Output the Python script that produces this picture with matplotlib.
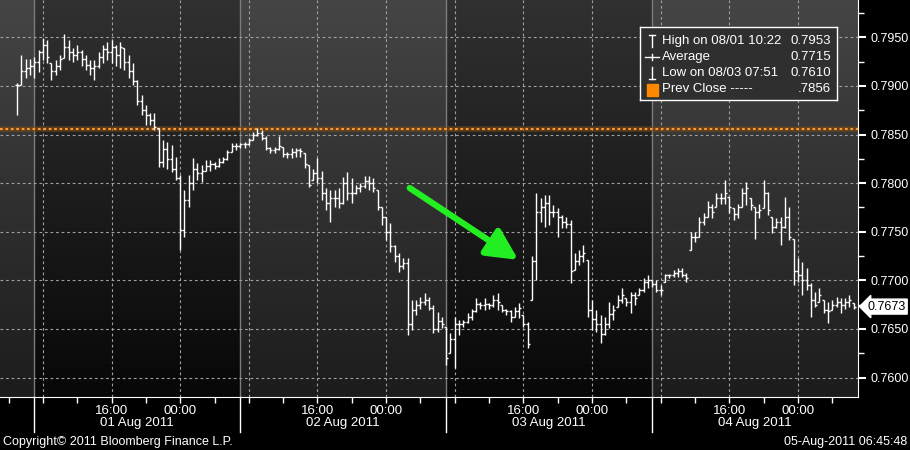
import matplotlib
matplotlib.use('Agg')
import matplotlib.pyplot as plt
import matplotlib.dates as mdates
import matplotlib.transforms as mtransforms
from matplotlib.patches import Rectangle
from matplotlib.ticker import FormatStrFormatter, MultipleLocator
import numpy as np
import pandas as pd

plt.rcParams['font.family'] = ['Liberation Sans', 'DejaVu Sans']

# 30 minute bars starting 01 Aug 05:00, prices x 10000
bar_start = '2011-08-01 05:00'
high = [
    7903, 7932, 7928, 7928, 7930, 7937, 7949, 7947, 7924, 7927,
    7932, 7953, 7947, 7939, 7942, 7937, 7932, 7927, 7927, 7935,
    7942, 7945, 7947, 7942, 7945, 7939, 7932, 7924, 7906, 7891,
    7880, 7872, 7872, 7857, 7844, 7842, 7839, 7827, 7808, 7793,
    7808, 7826, 7821, 7819, 7824, 7824, 7822, 7826, 7827, 7834,
    7841, 7841, 7841, 7842, 7846, 7853, 7857, 7855, 7849, 7837,
    7837, 7849, 7837, 7832, 7836, 7836, 7836, 7831, 7819, 7815,
    7826, 7813, 7795, 7793, 7793, 7795, 7806, 7811, 7805, 7798,
    7800, 7807, 7807, 7805, 7793, 7775, 7765, 7759, 7736, 7728,
    7723, 7723, 7680, 7680, 7683, 7687, 7683, 7675, 7667, 7662,
    7652, 7646, 7662, 7659, 7659, 7666, 7671, 7682, 7678, 7682,
    7677, 7685, 7687, 7675, 7671, 7670, 7673, 7677, 7664, 7657,
    7725, 7790, 7785, 7788, 7788, 7777, 7774, 7767, 7765, 7762,
    7728, 7731, 7736, 7721, 7680, 7670, 7664, 7662, 7678, 7675,
    7685, 7692, 7682, 7688, 7688, 7692, 7702, 7705, 7700, 7700,
    7695, 7707, 7707, 7711, 7713, 7713, 7708, 7750, 7750, 7765,
    7769, 7782, 7779, 7790, 7790, 7803, 7786, 7774, 7779, 7795,
    7801, 7785, 7775, 7779, 7803, 7791, 7765, 7764, 7765, 7786,
    7775, 7743, 7723, 7719, 7713, 7697, 7688, 7692, 7680, 7678,
    7680, 7683, 7682, 7682, 7685, 7677]
low = [
    7870, 7901, 7908, 7911, 7908, 7914, 7927, 7924, 7906, 7911,
    7916, 7929, 7927, 7925, 7927, 7921, 7916, 7911, 7906, 7918,
    7924, 7927, 7924, 7921, 7918, 7916, 7908, 7901, 7880, 7870,
    7860, 7860, 7855, 7817, 7817, 7815, 7811, 7803, 7731, 7745,
    7775, 7793, 7803, 7801, 7812, 7813, 7815, 7817, 7821, 7824,
    7832, 7834, 7836, 7836, 7839, 7844, 7848, 7844, 7834, 7831,
    7831, 7834, 7827, 7826, 7826, 7827, 7827, 7816, 7796, 7803,
    7800, 7783, 7772, 7760, 7775, 7774, 7779, 7783, 7780, 7789,
    7791, 7795, 7793, 7791, 7772, 7757, 7741, 7729, 7719, 7709,
    7712, 7644, 7649, 7664, 7671, 7675, 7670, 7646, 7647, 7651,
    7613, 7625, 7610, 7644, 7652, 7656, 7659, 7667, 7671, 7670,
    7671, 7673, 7670, 7667, 7664, 7657, 7662, 7661, 7652, 7630,
    7680, 7700, 7760, 7755, 7757, 7765, 7745, 7754, 7754, 7697,
    7711, 7716, 7719, 7662, 7649, 7647, 7636, 7644, 7651, 7659,
    7673, 7677, 7674, 7666, 7675, 7685, 7688, 7692, 7693, 7688,
    7685, 7698, 7702, 7703, 7703, 7703, 7698, 7731, 7739, 7745,
    7757, 7765, 7764, 7775, 7779, 7779, 7769, 7762, 7764, 7775,
    7777, 7772, 7743, 7764, 7774, 7767, 7749, 7754, 7736, 7754,
    7741, 7695, 7698, 7685, 7690, 7662, 7673, 7678, 7666, 7656,
    7670, 7673, 7666, 7671, 7673, 7671]
close = [
    7901, 7915, 7918, 7920, 7925, 7935, 7942, 7930, 7915, 7920,
    7928, 7940, 7935, 7932, 7935, 7928, 7922, 7918, 7920, 7930,
    7938, 7935, 7940, 7932, 7940, 7925, 7915, 7905, 7885, 7875,
    7870, 7865, 7858, 7822, 7835, 7825, 7815, 7805, 7752, 7783,
    7800, 7815, 7810, 7812, 7818, 7820, 7818, 7822, 7825, 7832,
    7838, 7838, 7840, 7840, 7844, 7850, 7852, 7846, 7836, 7834,
    7835, 7838, 7830, 7830, 7832, 7834, 7833, 7820, 7798, 7810,
    7805, 7790, 7780, 7785, 7785, 7780, 7800, 7790, 7790, 7795,
    7797, 7802, 7800, 7795, 7775, 7765, 7750, 7735, 7725, 7715,
    7718, 7655, 7670, 7675, 7678, 7680, 7672, 7650, 7658, 7655,
    7620, 7640, 7655, 7655, 7657, 7662, 7668, 7676, 7675, 7676,
    7675, 7680, 7678, 7670, 7668, 7662, 7668, 7672, 7655, 7635,
    7720, 7770, 7775, 7780, 7770, 7770, 7765, 7760, 7758, 7710,
    7720, 7725, 7728, 7670, 7660, 7655, 7645, 7655, 7665, 7670,
    7680, 7685, 7678, 7685, 7682, 7690, 7698, 7700, 7696, 7690,
    7690, 7705, 7705, 7708, 7710, 7706, 7702, 7745, 7745, 7760,
    7765, 7775, 7770, 7785, 7785, 7790, 7775, 7768, 7775, 7790,
    7795, 7778, 7770, 7772, 7790, 7772, 7755, 7760, 7755, 7765,
    7745, 7710, 7705, 7700, 7695, 7680, 7675, 7685, 7670, 7668,
    7675, 7678, 7675, 7678, 7680, 7673]

prev_close = 0.7856
y_ticks = [0.7600, 0.7650, 0.7700, 0.7750, 0.7800, 0.7850, 0.7900, 0.7950]
day_labels = ['01 Aug 2011', '02 Aug 2011', '03 Aug 2011', '04 Aug 2011']
legend_rows = [('High on 08/01 10:22', '0.7953'),
               ('Average', '0.7715'),
               ('Low on 08/03 07:51', '0.7610'),
               ('Prev Close -----', '.7856')]
last_price = 0.7673
arrow_from = ('2011-08-03 02:45', 0.7795)
arrow_to = ('2011-08-03 15:25', 0.7721)

times = pd.date_range(bar_start, periods=len(close), freq='30min')
t = mdates.date2num(times.to_pydatetime())
hi = np.array(high) / 1e4
lo = np.array(low) / 1e4
cl = np.array(close) / 1e4
# open tick = previous close, kept inside the bar's range
op = np.clip(np.r_[cl[0], cl[:-1]], lo, hi)


def dnum(s):
    return mdates.date2num(pd.Timestamp(s).to_pydatetime())


fig = plt.figure(figsize=(9.1, 4.5), dpi=100, facecolor='black')
ax = fig.add_axes([0, 53 / 450, 858 / 910, 397 / 450])
ax.set_facecolor('black')

x0, x1 = dnum('2011-08-01 03:00'), dnum('2011-08-05 07:00')
y0, y1 = 0.7580, 0.79884

# alternating day panels with a vertical gradient
bounds = [x0] + [dnum('2011-08-0%d 07:00' % d) for d in range(1, 6)]
grad = np.linspace(1, 0, 256).reshape(-1, 1)
for k in range(5):
    top, bot = (0.27, 0.11) if k % 2 == 0 else (0.19, 0.03)
    img = bot + (top - bot) * grad
    ax.imshow(np.dstack([img] * 3), extent=[bounds[k], bounds[k + 1], y0, y1],
              aspect='auto', zorder=0, interpolation='bilinear')

xblend = mtransforms.blended_transform_factory(ax.transData, ax.transAxes)
for b in bounds[1:5]:
    ax.axvline(b, color='#7c7c7c', lw=1, zorder=1)
    ax.plot([b, b], [0, -0.088], transform=xblend, color='white', lw=1, clip_on=False)

for g in pd.date_range('2011-08-01 08:00', '2011-08-05 00:00', freq='8h'):
    ax.axvline(dnum(g), color='#a0a0a0', lw=0.8, ls=(0, (2.5, 2.5)), zorder=1)
for yv in y_ticks:
    ax.axhline(yv, color='#a0a0a0', lw=0.8, ls=(0, (2.5, 2.5)), zorder=1)

ax.axhline(prev_close, color='#7a4a14', lw=4, alpha=0.6, zorder=2)
ax.axhline(prev_close, color='#ff9a30', lw=1.5, ls=(0, (1.3, 1.3)), zorder=3)

dt = 14 / 1440
ax.vlines(t, lo, hi, color='white', lw=1, zorder=4)
ax.hlines(op, t - dt, t, color='white', lw=1, zorder=4)
ax.hlines(cl, t, t + dt, color='white', lw=1, zorder=4)

ax.annotate('', xy=(dnum(arrow_to[0]), arrow_to[1]),
            xytext=(dnum(arrow_from[0]), arrow_from[1]),
            arrowprops=dict(arrowstyle='-|>,head_length=1.1,head_width=0.55',
                            color='#22ee22', lw=4.5, mutation_scale=17,
                            shrinkA=0, shrinkB=0), zorder=6)

ax.set_xlim(x0, x1)
ax.set_ylim(y0, y1)
for s in ['top', 'left']:
    ax.spines[s].set_visible(False)
for s in ['right', 'bottom']:
    ax.spines[s].set_color('white')
    ax.spines[s].set_zorder(7)

ax.yaxis.tick_right()
ax.set_yticks(y_ticks)
ax.yaxis.set_major_formatter(FormatStrFormatter('%.4f'))
ax.yaxis.set_minor_locator(MultipleLocator(0.0025))
ax.tick_params(axis='y', which='major', colors='white', length=6, width=1.5,
               pad=3, labelsize=9)
ax.tick_params(axis='y', which='minor', colors='white', length=4, width=1)

ax.xaxis.set_major_locator(mdates.HourLocator(byhour=[0, 16]))
ax.xaxis.set_major_formatter(mdates.DateFormatter('%H:%M'))
ax.xaxis.set_minor_locator(mdates.HourLocator(byhour=[4, 8, 12, 20]))
ax.tick_params(axis='x', which='both', colors='white', length=4, width=1,
               labelsize=9.5, pad=2)

for k, lab in enumerate(day_labels):
    ax.text(bounds[k + 1] + 0.5, -0.0655, lab, transform=xblend, ha='center',
            va='center', color='white', fontsize=9.5)

yblend = mtransforms.blended_transform_factory(ax.transAxes, ax.transData)
ax.text(1.011, last_price, '%.4f' % last_price, transform=yblend, ha='left',
        va='center', color='black', fontsize=9, clip_on=False, zorder=8,
        bbox=dict(boxstyle='larrow,pad=0.12', fc='white', ec='white'))

fig.text(3 / 910, 1 - 442 / 450, 'Copyright\u00a9 2011 Bloomberg Finance L.P.',
         color='white', fontsize=9, va='center')
fig.text(907 / 910, 1 - 442 / 450, '05-Aug-2011 06:45:48', color='white',
         fontsize=9, va='center', ha='right')

# legend box
lax = fig.add_axes([640 / 910, 1 - 100 / 450, 197 / 910, 73 / 450])
lax.set_xlim(0, 197)
lax.set_ylim(73, 0)
lax.set_facecolor('#2f2f2f')
for sp in lax.spines.values():
    sp.set_color('white')
    sp.set_linewidth(1)
lax.set_xticks([])
lax.set_yticks([])
rows_y = [13.7, 30.0, 46.3, 62.5]
for (label, val), yy in zip(legend_rows, rows_y):
    lax.text(21.5, yy, label, ha='left', va='center', color='white', fontsize=9.5)
    lax.text(191, yy, val, ha='right', va='center', color='white', fontsize=9.5)
lax.plot([12, 12], [8, 20], color='white', lw=1)
lax.plot([9, 15], [8, 8], color='white', lw=1)
lax.plot([5, 19], [30, 30], color='white', lw=1)
lax.plot([12, 12], [27, 33], color='white', lw=1)
lax.plot([12, 12], [40, 52], color='white', lw=1)
lax.plot([9, 15], [52, 52], color='white', lw=1)
lax.add_patch(Rectangle((7, 56.5), 11, 12, color='#ff8800'))

fig.savefig('out.png', dpi=100, facecolor='black')
